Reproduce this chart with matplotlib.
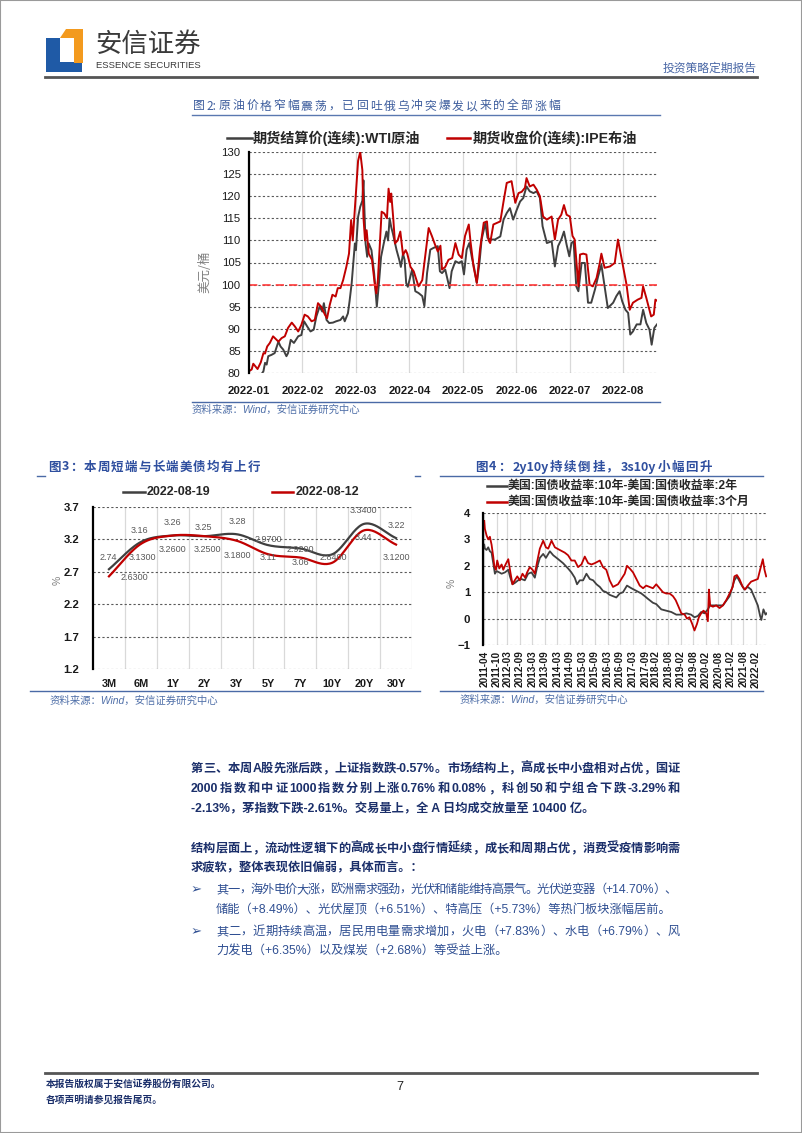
import re
import numpy as np
import matplotlib
matplotlib.use('Agg')
import matplotlib.pyplot as plt
from matplotlib.patches import Polygon, Rectangle
from matplotlib.lines import Line2D

plt.rcParams['font.family'] = ['Liberation Sans', 'Noto Sans CJK SC', 'DejaVu Sans']
plt.rcParams['axes.unicode_minus'] = True

# ---------------- data ----------------
# fig 2: oil, x = months since 2022-01
oil_months = ['2022-01', '2022-02', '2022-03', '2022-04', '2022-05', '2022-06', '2022-07', '2022-08']
wti = [(0, 76.5), (0.12, 78.5), (0.22, 79.5), (0.27, 80.4), (0.30, 82.3), (0.33, 81.9), (0.36, 83.8),
       (0.42, 84.1), (0.48, 84.5), (0.55, 87.1), (0.59, 86.0), (0.64, 85.3), (0.70, 83.8), (0.73, 84.5),
       (0.78, 87.5), (0.84, 86.8), (0.92, 88.3), (0.98, 88.6), (1.03, 91.7), (1.09, 90.5), (1.15, 89.4),
       (1.21, 89.8), (1.26, 92.8), (1.32, 95.0), (1.37, 93.9), (1.40, 95.8), (1.45, 92.0), (1.50, 91.3),
       (1.57, 91.4), (1.63, 91.7), (1.71, 92.0), (1.76, 92.8), (1.79, 91.7), (1.85, 93.5), (1.88, 96.2),
       (1.92, 100.3), (1.94, 103.3), (1.98, 109.3), (2.00, 107.8), (2.04, 115.3), (2.08, 117.6),
       (2.12, 119.0), (2.14, 123.6), (2.18, 109.3), (2.21, 106.3), (2.24, 109.3), (2.29, 107.8),
       (2.34, 102.6), (2.39, 95.0), (2.43, 100.3), (2.47, 106.3), (2.52, 109.3), (2.57, 112.0),
       (2.60, 110.0), (2.63, 115.0), (2.66, 113.0), (2.69, 111.6), (2.72, 110.0), (2.76, 107.8),
       (2.81, 105.6), (2.84, 104.0), (2.88, 107.0), (2.91, 105.6), (2.94, 100.3), (2.97, 99.5),
       (3.05, 103.4), (3.11, 98.5), (3.17, 98.1), (3.24, 97.4), (3.28, 95.1), (3.33, 102.6), (3.39, 107.9),
       (3.45, 108.3), (3.53, 108.7), (3.57, 103.0), (3.61, 102.6), (3.67, 103.4), (3.75, 99.2), (3.79, 103.0),
       (3.86, 105.3), (3.92, 104.9), (3.98, 105.3), (4.02, 102.3), (4.07, 107.9), (4.12, 109.4), (4.17, 106.0),
       (4.21, 103.8), (4.26, 100.4), (4.31, 104.9), (4.35, 110.2), (4.42, 113.9), (4.46, 110.6), (4.51, 110.2),
       (4.60, 110.2), (4.70, 110.9), (4.76, 114.7), (4.82, 116.2), (4.88, 117.3), (4.94, 114.7), (5.01, 117.0),
       (5.07, 118.8), (5.13, 119.6), (5.19, 122.2), (5.25, 121.1), (5.32, 120.7), (5.38, 121.1), (5.44, 119.6),
       (5.49, 113.2), (5.57, 109.4), (5.66, 109.8), (5.72, 104.1), (5.78, 108.7), (5.84, 110.2), (5.89, 112.0),
       (5.94, 109.0), (5.99, 106.4), (6.03, 109.4), (6.07, 109.8), (6.12, 99.6), (6.16, 98.5), (6.22, 104.9),
       (6.28, 104.9), (6.34, 95.9), (6.40, 95.9), (6.47, 98.9), (6.53, 101.9), (6.59, 104.5), (6.65, 99.6),
       (6.71, 94.7), (6.81, 95.9), (6.87, 97.4), (6.93, 98.5), (6.98, 96.2), (7.04, 94.3), (7.09, 93.6),
       (7.13, 88.7), (7.18, 89.4), (7.25, 91.0), (7.32, 91.0), (7.37, 94.3), (7.43, 91.3), (7.49, 89.8),
       (7.53, 86.4), (7.58, 90.2), (7.63, 91.0)]
brent = [(0, 80.4), (0.05, 80.8), (0.08, 82.1), (0.12, 81.5), (0.16, 80.9), (0.22, 82.4), (0.27, 84.5),
         (0.30, 84.4), (0.34, 86.0), (0.39, 86.8), (0.45, 88.3), (0.50, 87.7), (0.55, 87.1), (0.61, 87.9),
         (0.67, 88.3), (0.73, 90.2), (0.80, 91.4), (0.86, 90.5), (0.92, 89.4), (0.98, 90.9), (1.04, 93.2),
         (1.10, 92.8), (1.17, 91.7), (1.23, 92.0), (1.29, 95.8), (1.35, 95.0), (1.42, 93.2), (1.46, 92.4),
         (1.51, 95.4), (1.56, 97.7), (1.62, 97.3), (1.66, 99.2), (1.71, 99.2), (1.76, 101.0), (1.82, 104.0),
         (1.87, 107.0), (1.91, 114.6), (1.94, 110.0), (1.99, 119.0), (2.04, 128.0), (2.08, 130.0),
         (2.12, 125.9), (2.14, 115.3), (2.17, 110.0), (2.20, 112.3), (2.24, 107.0), (2.30, 105.6),
         (2.35, 100.3), (2.38, 98.0), (2.41, 101.0), (2.44, 107.8), (2.48, 116.5), (2.53, 116.1),
         (2.58, 115.0), (2.61, 121.7), (2.64, 118.7), (2.66, 120.6), (2.70, 114.6), (2.73, 109.3),
         (2.78, 110.0), (2.83, 112.0), (2.88, 106.7), (2.93, 107.8), (2.96, 107.0), (3.02, 104.0),
         (3.08, 103.0), (3.17, 99.6), (3.24, 101.0), (3.30, 107.0), (3.36, 112.8), (3.42, 111.0),
         (3.48, 109.0), (3.53, 107.5), (3.58, 108.8), (3.61, 103.4), (3.67, 104.0), (3.73, 105.6),
         (3.80, 106.0), (3.86, 109.4), (3.92, 106.8), (3.98, 106.0), (4.04, 111.0), (4.11, 113.6),
         (4.14, 110.0), (4.20, 104.0), (4.26, 100.4), (4.32, 108.0), (4.39, 114.0), (4.45, 114.3),
         (4.48, 110.0), (4.51, 109.4), (4.57, 113.6), (4.70, 114.3), (4.76, 118.8), (4.82, 123.0),
         (4.91, 123.4), (4.98, 118.5), (5.04, 120.7), (5.10, 121.0), (5.16, 121.9), (5.19, 124.1),
         (5.25, 122.2), (5.32, 122.6), (5.38, 121.5), (5.44, 120.0), (5.50, 115.4), (5.57, 114.7),
         (5.66, 115.4), (5.72, 110.2), (5.78, 114.7), (5.84, 115.8), (5.89, 118.0), (5.94, 115.8),
         (6.00, 115.4), (6.05, 111.0), (6.09, 110.2), (6.16, 99.6), (6.19, 106.8), (6.25, 107.0),
         (6.31, 106.8), (6.37, 100.0), (6.43, 99.6), (6.50, 101.5), (6.56, 104.9), (6.59, 107.0),
         (6.65, 103.8), (6.75, 104.1), (6.84, 104.9), (6.90, 110.2), (6.96, 106.4), (7.06, 100.0),
         (7.12, 94.3), (7.18, 95.9), (7.27, 96.6), (7.34, 97.0), (7.37, 99.6), (7.43, 97.0), (7.52, 92.8),
         (7.57, 93.2), (7.60, 96.6), (7.65, 96.2)]

# fig 3: treasury curve
tenors = ['3M', '6M', '1Y', '2Y', '3Y', '5Y', '7Y', '10Y', '20Y', '30Y']
curve_0819 = [2.74, 3.16, 3.26, 3.25, 3.28, 3.11, 3.06, 2.97, 3.44, 3.22]
curve_0812 = [2.63, 3.13, 3.26, 3.25, 3.18, 2.97, 2.92, 2.84, 3.34, 3.12]
# data labels as printed on the chart: (text, tenor index, y)
curve_labels = [('2.74', -0.03, 2.92), ('2.6300', 0.79, 2.61), ('3.16', 0.97, 3.34), ('3.1300', 1.05, 2.92),
                ('3.26', 1.99, 3.46), ('3.2600', 1.99, 3.05), ('3.25', 2.97, 3.38), ('3.2500', 3.09, 3.05),
                ('3.28', 4.03, 3.48), ('3.1800', 4.03, 2.95), ('2.9700', 5.0, 3.2), ('3.11', 5.0, 2.92),
                ('2.9200', 5.99, 3.05), ('3.06', 5.99, 2.85), ('2.8400', 7.02, 2.92), ('3.3400', 7.99, 3.64),
                ('3.44', 7.99, 3.23), ('3.22', 9.0, 3.41), ('3.1200', 9.0, 2.92)]

# fig 4: spreads, x = months since 2011-04
spread_ticks = ['2011-04', '2011-10', '2012-03', '2012-09', '2013-03', '2013-09', '2014-03', '2014-09',
                '2015-03', '2015-09', '2016-03', '2016-09', '2017-03', '2017-09', '2018-02', '2018-08',
                '2019-02', '2019-08', '2020-02', '2020-08', '2021-02', '2021-08', '2022-02']
spread_tick_pos = [0, 6, 11, 17, 23, 29, 35, 41, 47, 53, 59, 65, 71, 77, 82, 88, 94, 100, 106, 112, 118, 124, 130]
s10_2 = [(0, 2.8), (0.3, 2.65), (1.1, 2.6), (1.9, 2.7), (2.7, 2.55), (3.5, 2.5), (4.3, 2.1), (5.1, 1.7),
         (5.9, 1.8), (7.2, 1.75), (8.3, 1.7), (9.9, 1.75), (11.5, 1.85), (12.3, 1.6), (13.5, 1.3), (14.6, 1.35),
         (16.2, 1.45), (17.8, 1.5), (19.4, 1.45), (21, 1.7), (22.6, 1.75), (24.2, 1.55), (25.3, 1.95),
         (26.6, 2.3), (28.2, 2.45), (29.5, 2.3), (31.4, 2.55), (33, 2.4), (35.4, 2.25), (37.7, 2.1),
         (40.1, 1.9), (41.7, 1.75), (43.3, 1.55), (44.4, 1.3), (45.7, 1.45), (47.3, 1.45), (48.9, 1.7),
         (50.5, 1.5), (52.1, 1.45), (53.7, 1.3), (55.3, 1.2), (56.8, 1.05), (58.4, 1.0), (60, 0.9),
         (61.6, 0.85), (63.2, 0.8), (64.8, 0.95), (66.4, 1.0), (68.3, 1.25), (70.4, 1.15), (72.8, 1.05),
         (75.2, 0.95), (76.8, 0.85), (78.3, 0.75), (80.7, 0.6), (82.3, 0.55), (84.7, 0.35), (87.1, 0.3),
         (89.5, 0.25), (91.9, 0.15), (94.3, 0.15), (96.7, 0.2), (99, 0.15), (100.6, 0.05), (102.2, 0.1),
         (103.8, 0.25), (105.4, 0.2), (107, 0.35), (108.1, 0.5), (111, 0.5), (114.2, 0.5), (117.4, 0.85),
         (119.7, 1.45), (120.9, 1.6), (122.9, 1.3), (124.5, 1.1), (126.1, 1.2), (127.7, 1.1), (129.3, 0.8),
         (130.9, 0.5), (132, 0.1), (132.6, -0.05), (133.6, 0.35), (134.6, 0.15), (135.2, 0.2)]
s10_3m = [(0, 3.7), (0.3, 3.4), (1.1, 3.15), (1.9, 3.0), (2.7, 3.1), (3.5, 2.8), (4.3, 2.35), (4.8, 2.0),
          (5.6, 1.85), (6.2, 2.2), (7.2, 1.9), (8.3, 2.05), (9.1, 1.85), (10.2, 2.05), (11.5, 2.25), (12.3, 1.85),
          (13.5, 1.3), (14.6, 1.45), (15.8, 1.6), (17, 1.45), (18.3, 1.7), (19.6, 1.55), (20.5, 1.75),
          (21.8, 1.95), (23.1, 1.85), (24.2, 1.7), (25.3, 2.15), (26.6, 2.65), (28.2, 2.95), (29.5, 2.7),
          (30.6, 2.65), (32.2, 2.95), (33.8, 2.7), (36.1, 2.6), (38.5, 2.5), (40.1, 2.4), (41.7, 2.2),
          (43.3, 2.2), (44.9, 1.95), (46.5, 2.05), (48.1, 2.35), (49.7, 2.1), (51.3, 2.05), (52.9, 2.1),
          (55.3, 2.2), (56.8, 1.95), (58.4, 1.85), (60, 1.45), (61.6, 1.2), (64, 1.3), (65.6, 1.5),
          (67.2, 1.7), (68.3, 2.0), (69.6, 1.9), (71.2, 1.75), (72.8, 1.5), (74.4, 1.25), (76, 1.15),
          (77.5, 1.25), (79.1, 1.2), (80.7, 1.15), (82.3, 1.3), (83.9, 1.15), (85.5, 1.0), (87.1, 0.95),
          (88.7, 0.95), (90.3, 0.85), (91.6, 0.7), (92.7, 0.5), (94.3, 0.2), (95.9, 0.15), (97, 0.0),
          (98.2, 0.05), (99.5, -0.2), (100.6, -0.45), (101.8, -0.2), (102.7, 0.05), (103.8, 0.2), (104.9, 0.3),
          (106.2, 0.2), (107, -0.1), (107.5, 1.1), (108.1, 0.5), (109.4, 0.45), (111, 0.5), (112.6, 0.4),
          (114.2, 0.5), (115.8, 0.7), (117.4, 0.95), (118.9, 1.2), (119.7, 1.6), (120.9, 1.65), (122.1, 1.5),
          (123.7, 1.2), (124.8, 1.1), (126.1, 1.25), (127.7, 1.4), (129.3, 1.45), (130.9, 1.5), (132, 1.85),
          (133.3, 2.25), (134.1, 1.85), (134.9, 1.6)]

# ---------------- helpers ----------------
W, H = 802, 1133
fig = plt.figure(figsize=(W / 100, H / 100), dpi=100)
fig.patch.set_facecolor('white')
renderer = fig.canvas.get_renderer()

CJK = ['Noto Sans CJK SC', 'DejaVu Sans']
NAVY = '#1b2f6a'
BLUE = '#2f4f92'
GREY = '#404040'
RED = '#c00000'


def fx(x):
    return x / W


def fy(y):
    return 1 - y / H


def px_axes(l, t, r, b):
    return fig.add_axes([l / W, 1 - b / H, (r - l) / W, (b - t) / H])


def hline(x0, x1, y, color, lw):
    fig.add_artist(Line2D([fx(x0), fx(x1)], [fy(y), fy(y)], color=color, lw=lw))


def txt(x, y, s, **kw):
    kw.setdefault('va', 'center')
    return fig.text(fx(x), fy(y), s, **kw)


def justify(x0, x1, y, s, **kw):
    # spread the pieces of one line evenly between x0 and x1
    toks = re.findall(r'[\x21-\x7e]+|\S', s)
    arts = [txt(x0, y, t, ha='left', **kw) for t in toks]
    ws = [a.get_window_extent(renderer).width for a in arts]
    gap = (x1 - x0 - sum(ws)) / max(len(toks) - 1, 1)
    x = x0
    for a, w in zip(arts, ws):
        a.set_x(fx(x))
        x += w + gap


def smooth(x, y, n=24):
    pts = np.column_stack([x, y]).astype(float)
    P = np.vstack([2 * pts[0] - pts[1], pts, 2 * pts[-1] - pts[-2]])
    t = np.linspace(0, 1, n, endpoint=False)[:, None]
    segs = []
    for i in range(1, len(P) - 2):
        p0, p1, p2, p3 = P[i - 1], P[i], P[i + 1], P[i + 2]
        segs.append(0.5 * (2 * p1 + (-p0 + p2) * t + (2 * p0 - 5 * p1 + 4 * p2 - p3) * t ** 2
                           + (-p0 + 3 * p1 - 3 * p2 + p3) * t ** 3))
    segs.append(pts[-1:])
    out = np.vstack(segs)
    return out[:, 0], out[:, 1]


def style_axes(ax):
    for s in ['top', 'right', 'bottom']:
        ax.spines[s].set_visible(False)
    ax.spines['left'].set_color('black')
    ax.spines['left'].set_linewidth(1.6)
    ax.yaxis.grid(True, ls=(0, (2, 2)), color='#595959', lw=0.8)
    ax.set_axisbelow(True)
    ax.tick_params(length=0, labelsize=8.2, colors='#1a1a1a')
    ax.set_facecolor('none')


# ---------------- page frame / header / footer ----------------
fig.add_artist(Rectangle((0, 0), 1, 1, transform=fig.transFigure, fill=False, edgecolor='#9a9a9a', lw=1.5))


def poly(pts, color):
    fig.add_artist(Polygon([(fx(a), fy(b)) for a, b in pts], closed=True, transform=fig.transFigure,
                           facecolor=color, edgecolor='none'))


poly([(46, 38), (60, 38), (60, 62), (82, 62), (82, 72), (46, 72)], '#1f5aa6')
poly([(60, 38), (66, 29), (83, 29), (83, 63), (74, 63), (74, 38)], '#f39a1e')
txt(95, 44, '安信证券', size=19, color='#3a3a3a', family=CJK)
txt(96, 66, 'ESSENCE SECURITIES', size=6.8, color='#3a3a3a', family=['Liberation Sans Narrow', 'Liberation Sans'])
txt(757, 68, '投资策略定期报告', size=8.5, color='#4a68a6', ha='right', family=CJK)
hline(45, 757, 77, '#555555', 2)

hline(45, 757, 1073, '#555555', 2)
txt(46, 1084, '本报告版权属于安信证券股份有限公司。', size=7, color=NAVY, weight='bold', family=CJK)
txt(46, 1100, '各项声明请参见报告尾页。', size=7, color=NAVY, weight='bold', family=CJK)
txt(400, 1087, '7', size=9, color='#222222', ha='center')

# ---------------- fig 2: oil ----------------
justify(193, 560, 106, '图 2: 原油价格窄幅震荡，已回吐俄乌冲突爆发以来的全部涨幅', size=8.5, color='#3d5d9d', family=CJK)
hline(192, 660, 115, '#5a78b0', 1)

hline(227, 252, 138, GREY, 1.8)
txt(253, 138, '期货结算价(连续):WTI原油', size=10.2, weight='bold', color='#262626')
hline(447, 470, 138, RED, 1.8)
txt(473, 138, '期货收盘价(连续):IPE布油', size=10.2, weight='bold', color='#262626')

ax1 = px_axes(249, 152, 657, 373)
ax1.plot(*zip(*wti), color=GREY, lw=1.4)
ax1.plot(*zip(*brent), color=RED, lw=1.4)
ax1.axhline(100, color='#ff3a3a', lw=1.2, ls=(0, (5, 3)))
ax1.set_xlim(0, 7.63)
ax1.set_ylim(80, 130)
ax1.set_yticks(range(80, 131, 5))
ax1.set_xticks(range(len(oil_months)))
ax1.set_xticklabels(oil_months, fontweight='bold')
style_axes(ax1)
ax1.xaxis.grid(True, color='#d9d9d9', lw=0.9)
ax1.tick_params(axis='x', pad=9)
ax1.tick_params(axis='y', pad=6)
txt(205, 272, '美元/桶', size=9, color='#808080', rotation=90, ha='center', family=CJK)

hline(192, 660, 402, '#4a6aa6', 1)
txt(192, 410, '资料来源：Wind，安信证券研究中心', size=7.5, color='#4f6fa8', style='italic')

# ---------------- fig 3: treasury curve ----------------
justify(48, 260, 467, '图 3：本周短端与长端美债均有上行', size=9, weight='bold', color='#2f4f9f', family=CJK)
hline(37, 45, 476, '#4a6aa6', 1)
hline(415, 420, 476, '#4a6aa6', 1)

hline(123, 145, 492, GREY, 1.8)
txt(147, 492, '2022-08-19', size=9, weight='bold', color='#262626')
hline(272, 293, 492, RED, 1.8)
txt(296, 492, '2022-08-12', size=9, weight='bold', color='#262626')

ax3 = px_axes(93, 507, 412, 669)
idx = np.arange(len(tenors))
ax3.plot(*smooth(idx, curve_0819), color=GREY, lw=1.6)
ax3.plot(*smooth(idx, curve_0812), color=RED, lw=1.6)
for s, xi, yi in curve_labels:
    ax3.text(xi, yi, s, ha='center', va='center', size=6.5, color='#595959')
ax3.set_xlim(-0.5, len(tenors) - 0.5)
ax3.set_ylim(1.2, 3.7)
ax3.set_yticks([1.2, 1.7, 2.2, 2.7, 3.2, 3.7])
ax3.set_xticks(idx)
ax3.set_xticklabels(tenors, fontweight='bold')
ax3.set_xticks(idx + 0.5, minor=True)
style_axes(ax3)
ax3.xaxis.grid(True, which='minor', color='#d9d9d9', lw=0.9)
ax3.tick_params(which='both', length=0)
ax3.tick_params(axis='x', pad=7, labelsize=7.8)
ax3.tick_params(axis='y', pad=10)
for lbl in ax3.get_yticklabels():
    lbl.set_fontweight('bold')
txt(58, 580, '%', size=7.5, color='#808080', rotation=90, ha='center')

hline(30, 420, 691, '#4a6aa6', 1)
txt(50, 701, '资料来源：Wind，安信证券研究中心', size=7.5, color='#4f6fa8', style='italic')

# ---------------- fig 4: spreads ----------------
justify(475, 712, 467, '图 4：2y10y 持续倒挂，3s10y 小幅回升', size=9, weight='bold', color='#2f4f9f', family=CJK)
hline(440, 763, 476, '#4a6aa6', 1)

hline(487, 507, 486, GREY, 1.8)
txt(508, 486, '美国:国债收益率:10年-美国:国债收益率:2年', size=8.6, weight='bold', color='#262626')
hline(487, 507, 502, RED, 1.8)
txt(508, 502, '美国:国债收益率:10年-美国:国债收益率:3个月', size=8.6, weight='bold', color='#262626')

ax4 = px_axes(483, 513, 767, 645)
ax4.plot(*zip(*s10_2), color=GREY, lw=1.3)
ax4.plot(*zip(*s10_3m), color=RED, lw=1.3)
ax4.set_xlim(-0.6, 135.3)
ax4.set_ylim(-1, 4)
ax4.set_yticks(range(-1, 5))
ax4.set_xticks(spread_tick_pos)
ax4.set_xticklabels(spread_ticks, rotation=90, fontweight='bold')
style_axes(ax4)
ax4.xaxis.grid(True, color='#d9d9d9', lw=0.9)
ax4.tick_params(axis='x', pad=4, labelsize=7.2)
ax4.tick_params(axis='y', pad=9)
for lbl in ax4.get_yticklabels():
    lbl.set_fontweight('bold')
txt(452, 583, '%', size=7.5, color='#808080', rotation=90, ha='center')

hline(440, 763, 691, '#4a6aa6', 1)
txt(460, 700, '资料来源：Wind，安信证券研究中心', size=7.5, color='#4f6fa8', style='italic')

# ---------------- body text ----------------
body = dict(size=8.8, weight='bold', color=NAVY)
justify(191, 680, 769, '第三、本周 A 股先涨后跌，上证指数跌-0.57%。市场结构上，高成长中小盘相对占优，国证', **body)
justify(191, 680, 789, '2000 指数和中证 1000 指数分别上涨 0.76%和 0.08%，科创 50 和宁组合下跌-3.29%和', **body)
txt(191, 809, '-2.13%，茅指数下跌-2.61%。交易量上，全 A 日均成交放量至 10400 亿。', **body)

justify(191, 680, 849, '结构层面上，流动性逻辑下的高成长中小盘行情延续，成长和周期占优，消费受疫情影响需', **body)
txt(191, 868, '求疲软，整体表现依旧偏弱，具体而言。：', **body)

bullet = dict(size=8.8, color=BLUE)
txt(191, 890, '➢', size=9.5, color=BLUE, family=['DejaVu Sans'])
justify(216, 677, 890, '其一，海外电价大涨，欧洲需求强劲，光伏和储能维持高景气。光伏逆变器（+14.70%）、', **bullet)
txt(216, 910, '储能（+8.49%）、光伏屋顶（+6.51%）、特高压（+5.73%）等热门板块涨幅居前。', **bullet)
txt(191, 932, '➢', size=9.5, color=BLUE, family=['DejaVu Sans'])
justify(216, 680, 932, '其二，近期持续高温，居民用电量需求增加，火电（+7.83%）、水电（+6.79%）、风', **bullet)
txt(216, 952, '力发电（+6.35%）以及煤炭（+2.68%）等受益上涨。', **bullet)

fig.savefig('out.png', dpi=100)
